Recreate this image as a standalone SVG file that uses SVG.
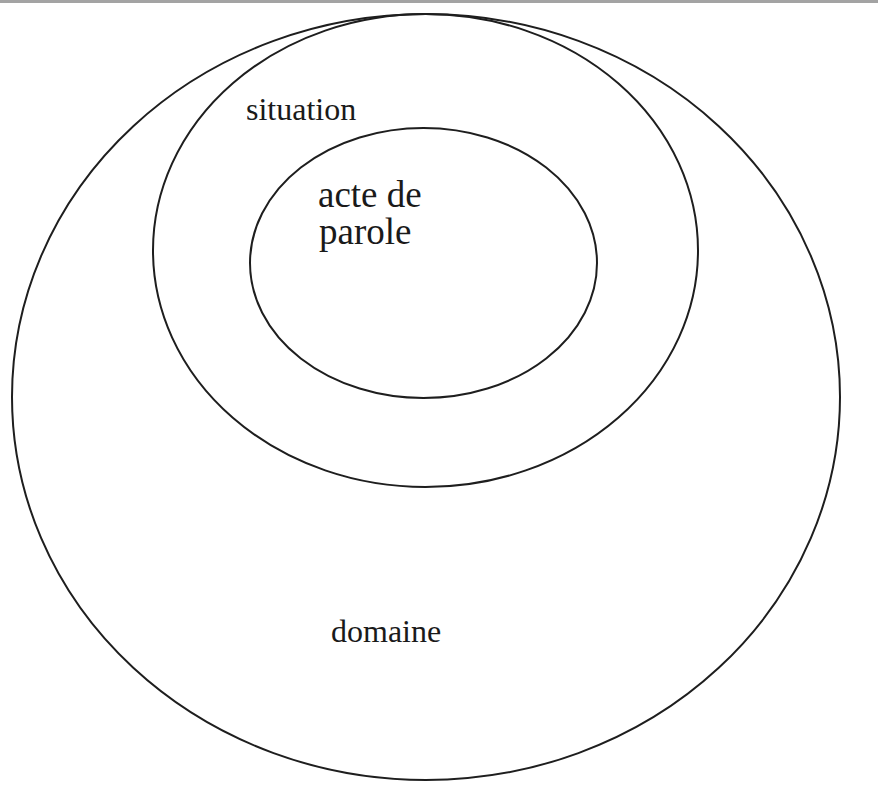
<svg xmlns="http://www.w3.org/2000/svg" width="878" height="792" viewBox="0 0 878 792">
<style>
.ring{fill:none;stroke:#1e1e1e;stroke-width:2}
.lbl{font-family:"Liberation Serif","Times New Roman",serif;fill:#1a1a1a}
</style>
<rect x="0" y="0" width="878" height="792" fill="#ffffff"/>
<rect x="0" y="0" width="878" height="3" fill="#a3a3a3"/>
<g id="domaine">
<ellipse class="ring" cx="426" cy="397" rx="414" ry="383"/>
<text class="lbl" x="331" y="642" font-size="32">domaine</text>
</g>
<g id="situation">
<ellipse class="ring" cx="425.5" cy="250.5" rx="272.5" ry="236.5"/>
<text class="lbl" x="246" y="120" font-size="32">situation</text>
</g>
<g id="acte-de-parole">
<ellipse class="ring" cx="423.5" cy="263" rx="173.5" ry="135"/>
<text class="lbl" x="318" y="207" font-size="37">acte de</text>
<text class="lbl" x="319" y="244" font-size="37">parole</text>
</g>
<g id="connectors"></g>
</svg>
